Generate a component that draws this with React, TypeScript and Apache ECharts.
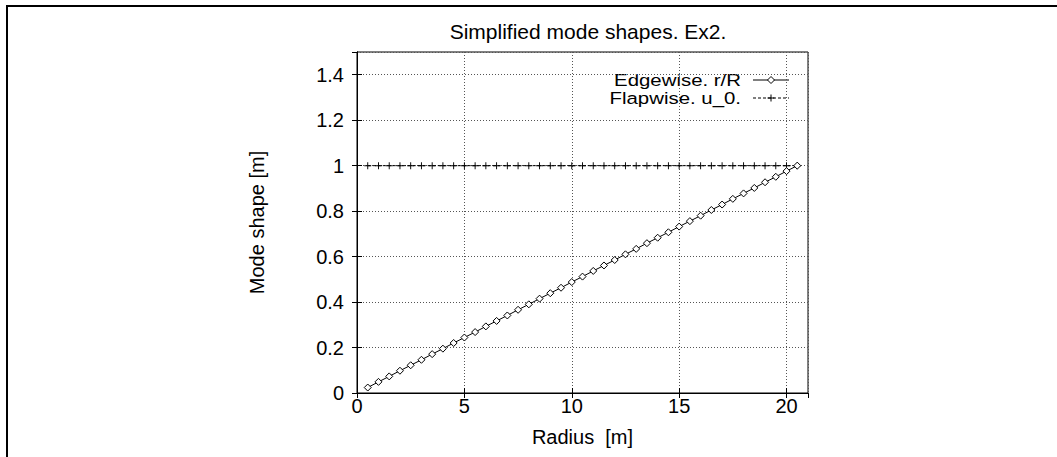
import React, { useEffect, useRef } from "react";
import * as echarts from "echarts";

// Radial stations along the blade [m]
const radius = [
  0.5, 1.0, 1.5, 2.0, 2.5, 3.0, 3.5, 4.0, 4.5, 5.0, 5.5, 6.0, 6.5, 7.0,
  7.5, 8.0, 8.5, 9.0, 9.5, 10.0, 10.5, 11.0, 11.5, 12.0, 12.5, 13.0, 13.5,
  14.0, 14.5, 15.0, 15.5, 16.0, 16.5, 17.0, 17.5, 18.0, 18.5, 19.0, 19.5,
  20.0, 20.5,
];

// Edgewise mode shape r/R
const edgewise = [
  0.024, 0.049, 0.073, 0.098, 0.122, 0.146, 0.171, 0.195, 0.22, 0.244,
  0.268, 0.293, 0.317, 0.341, 0.366, 0.39, 0.415, 0.439, 0.463, 0.488,
  0.512, 0.537, 0.561, 0.585, 0.61, 0.634, 0.659, 0.683, 0.707, 0.732,
  0.756, 0.78, 0.805, 0.829, 0.854, 0.878, 0.902, 0.927, 0.951, 0.976, 1.0,
];

// Flapwise mode shape u_0
const flapwise = [
  1, 1, 1, 1, 1, 1, 1, 1, 1, 1, 1, 1, 1, 1, 1, 1, 1, 1, 1, 1, 1, 1, 1, 1,
  1, 1, 1, 1, 1, 1, 1, 1, 1, 1, 1, 1, 1, 1, 1, 1, 1,
];

const seriesNames = ["Edgewise. r/R", "Flapwise. u_0."];
const titleText = "Simplified mode shapes. Ex2.";
const xName = "Radius  [m]";
const yName = "Mode shape [m]";

const FONT = "'Liberation Sans', Arial, Helvetica, sans-serif";
const FS = 20;
const PLUS = "path://M2.6,0H3.4V2.6H6V3.4H3.4V6H2.6V3.4H0V2.6H2.6Z";

export default function App() {
  const ref = useRef<HTMLDivElement>(null);

  useEffect(() => {
    if (!ref.current) return;
    const chart = echarts.init(ref.current, null, { renderer: "svg" });

    const gridLine = {
      show: true,
      lineStyle: { color: "#555", width: 1, type: [1, 2] as any },
    };
    const tick = { show: true, inside: true, length: 5, lineStyle: { color: "#000" } };
    const axisLine = { show: true, lineStyle: { color: "#000", width: 1 } };
    const label = { color: "#000", fontSize: FS, fontFamily: FONT };

    const legendX0 = 753;
    const legendX1 = 789;
    const legendXm = 771;
    const legendY0 = 80;
    const legendY1 = 98;
    const legendTextX = 741;
    const legendFont = `17px ${FONT}`;
    const legendStretch = 1.2;

    chart.setOption({
      animation: false,
      backgroundColor: "#fff",
      title: {
        text: titleText,
        left: 583,
        top: 16,
        textAlign: "center",
        textStyle: { color: "#000", fontSize: 21, fontWeight: "normal", fontFamily: FONT },
      },
      grid: {
        left: 357,
        top: 52,
        right: 249,
        bottom: 64,
        show: true,
        borderColor: "#000",
        borderWidth: 1,
      },
      xAxis: [
        {
          type: "value",
          min: 0,
          max: 21,
          interval: 5,
          name: xName,
          nameLocation: "middle",
          nameGap: 34,
          nameTextStyle: label,
          axisLine,
          axisTick: tick,
          axisLabel: { ...label, margin: 3, showMaxLabel: false },
          splitLine: gridLine,
        },
        {
          type: "value",
          position: "top",
          min: 0,
          max: 21,
          interval: 5,
          axisLine,
          axisTick: tick,
          axisLabel: { show: false },
          splitLine: { show: false },
        },
      ],
      yAxis: [
        {
          type: "value",
          min: 0,
          max: 1.5,
          interval: 0.2,
          name: yName,
          nameLocation: "middle",
          nameGap: 90,
          nameTextStyle: label,
          axisLine,
          axisTick: tick,
          axisLabel: { ...label, margin: 13, showMaxLabel: false },
          splitLine: gridLine,
        },
        {
          type: "value",
          position: "right",
          min: 0,
          max: 1.5,
          interval: 0.2,
          axisLine,
          axisTick: tick,
          axisLabel: { show: false },
          splitLine: { show: false },
        },
      ],
      series: [
        {
          name: seriesNames[0],
          type: "line",
          data: radius.map((r, i) => [r, edgewise[i]]),
          symbol: "diamond",
          symbolSize: 7,
          showSymbol: true,
          itemStyle: { color: "#fff", borderColor: "#000", borderWidth: 1 },
          lineStyle: { color: "#000", width: 1 },
          z: 3,
        },
        {
          name: seriesNames[1],
          type: "line",
          data: radius.map((r, i) => [r, flapwise[i]]),
          symbol: PLUS,
          symbolSize: 7,
          showSymbol: true,
          itemStyle: { color: "#000" },
          lineStyle: { color: "#000", width: 1, type: [3, 2] as any },
          z: 2,
        },
      ],
      graphic: [
        {
          type: "rect",
          shape: { x: 7, y: 6, width: 1070, height: 470 },
          style: { fill: "none", stroke: "#000", lineWidth: 2 },
          silent: true,
        },
        {
          type: "text",
          x: legendTextX,
          y: legendY0,
          scaleX: legendStretch,
          style: {
            text: seriesNames[0],
            fill: "#000",
            font: legendFont,
            textAlign: "right",
            textVerticalAlign: "middle",
          },
        },
        {
          type: "line",
          shape: { x1: legendX0, y1: legendY0, x2: legendX1, y2: legendY0 },
          style: { stroke: "#000", lineWidth: 1 },
        },
        {
          type: "polygon",
          shape: {
            points: [
              [legendXm, legendY0 - 3.5],
              [legendXm + 3.5, legendY0],
              [legendXm, legendY0 + 3.5],
              [legendXm - 3.5, legendY0],
            ],
          },
          style: { fill: "#fff", stroke: "#000", lineWidth: 1 },
        },
        {
          type: "text",
          x: legendTextX,
          y: legendY1,
          scaleX: legendStretch,
          style: {
            text: seriesNames[1],
            fill: "#000",
            font: legendFont,
            textAlign: "right",
            textVerticalAlign: "middle",
          },
        },
        {
          type: "line",
          shape: { x1: legendX0, y1: legendY1, x2: legendX1, y2: legendY1 },
          style: { stroke: "#000", lineWidth: 1, lineDash: [3, 2] },
        },
        {
          type: "line",
          shape: { x1: legendXm - 3.5, y1: legendY1, x2: legendXm + 3.5, y2: legendY1 },
          style: { stroke: "#000", lineWidth: 1 },
        },
        {
          type: "line",
          shape: { x1: legendXm, y1: legendY1 - 3.5, x2: legendXm, y2: legendY1 + 3.5 },
          style: { stroke: "#000", lineWidth: 1 },
        },
      ],
    });

    return () => chart.dispose();
  }, []);

  return (
    <div
      ref={ref}
      style={{ position: "fixed", left: 0, top: 0, width: 1057, height: 457 }}
    />
  );
}
